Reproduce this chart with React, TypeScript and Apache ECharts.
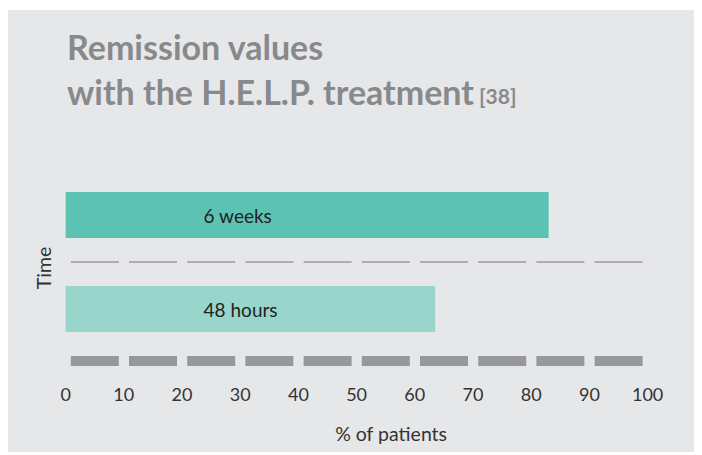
import React, { useEffect, useRef } from "react";
import * as echarts from "echarts";

const categories = ["48 hours", "6 weeks"];
const values = [63.5, 83];
const barColors = ["#98d6cb", "#5cc3b4"];
const xMin = 0;
const xMax = 100;
const xStep = 10;
const titleLine1 = "Remission values";
const titleLine2 = "with the H.E.L.P. treatment";
const titleRef = "[38]";
const xName = "% of patients";
const yName = "Time";

const FONT = 'Lato, "Open Sans", sans-serif';

export default function App() {
  const ref = useRef<HTMLDivElement>(null);
  useEffect(() => {
    if (!ref.current) return;
    const chart = echarts.init(ref.current, null, { renderer: "svg" });
    const dash = [48, 10.2];
    chart.setOption({
      animation: false,
      backgroundColor: "#e6e7e9",
      title: {
        left: 59,
        top: 14,
        padding: 0,
        text: `{a|${titleLine1}}\n{a|${titleLine2}} {b|${titleRef}}`,
        textStyle: {
          rich: {
            a: { fontSize: 34, fontWeight: "bold", color: "#88898b", fontFamily: FONT, lineHeight: 45 },
            b: { fontSize: 21, fontWeight: "bold", color: "#88898b", fontFamily: FONT, lineHeight: 45, padding: [8, 0, 0, 0] },
          },
        },
      },
      grid: { left: 57.6, right: 48.4, top: 158, height: 188, containLabel: false },
      xAxis: {
        type: "value",
        min: xMin,
        max: xMax,
        interval: xStep,
        offset: 5,
        axisLine: { show: true, onZero: false, lineStyle: { color: "#97989b", width: 10, type: dash, dashOffset: 53.1, cap: "butt" } },
        axisTick: { show: false },
        splitLine: { show: false },
        axisLabel: { margin: 24, color: "#333", fontSize: 18, fontFamily: FONT },
        name: xName,
        nameLocation: "middle",
        nameGap: 62,
        nameTextStyle: { fontSize: 19.5, color: "#333", fontFamily: FONT, padding: [0, 0, 0, 69] },
      },
      yAxis: {
        type: "category",
        data: categories,
        axisLine: { show: false },
        axisTick: { show: false },
        axisLabel: { show: false },
        splitLine: {
          show: true,
          showMinLine: false,
          showMaxLine: false,
          lineStyle: { color: "#9a9b9d", width: 1.5, type: dash, dashOffset: 53.1, cap: "butt" },
        },
        name: yName,
        nameLocation: "middle",
        nameGap: 12,
        nameTextStyle: { fontSize: 19.5, color: "#333", fontFamily: FONT, padding: [0, 12, 0, 0] },
      },
      series: [
        {
          type: "bar",
          barWidth: 46,
          data: values.map((v, i) => ({ value: v, itemStyle: { color: barColors[i] } })),
          label: {
            show: true,
            position: [138, "50%"],
            align: "left",
            verticalAlign: "middle",
            formatter: "{b}",
            color: "#222",
            fontSize: 19,
            fontFamily: FONT,
          },
        },
      ],
    });
    return () => chart.dispose();
  }, []);
  return <div ref={ref} style={{ width: 688, height: 442, marginTop: 2 }} />;
}
